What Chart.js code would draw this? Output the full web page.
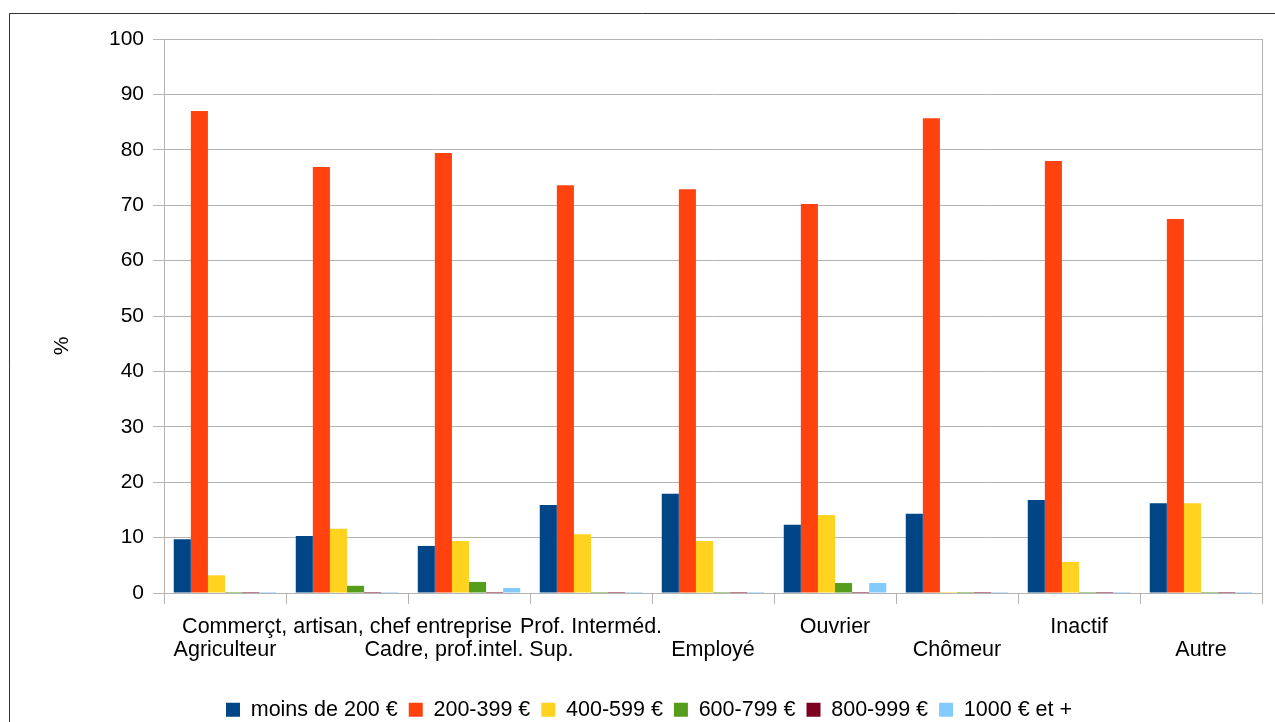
<!DOCTYPE html>
<html><head><meta charset="utf-8">
<script src="https://cdn.jsdelivr.net/npm/chart.js@4/dist/chart.umd.min.js"></script>
<style>html,body{margin:0;padding:0;background:#fff;}#wrap{width:1275px;height:722px;position:relative;}</style>
</head><body><div id="wrap"><canvas id="c" width="1275" height="722"></canvas></div>
<script>
const categories = [
  ['', 'Agriculteur'],
  ['Commerçt, artisan, chef entreprise', ''],
  ['', 'Cadre, prof.intel. Sup.'],
  ['Prof. Interméd.', ''],
  ['', 'Employé'],
  ['Ouvrier', ''],
  ['', 'Chômeur'],
  ['Inactif', ''],
  ['', 'Autre']
];
const seriesNames = ['moins de 200 €', '200-399 €', '400-599 €', '600-799 €', '800-999 €', '1000 € et +'];
const moins200 = [9.7, 10.3, 8.5, 15.9, 17.9, 12.3, 14.3, 16.8, 16.2];
const s200_399 = [87.0, 76.9, 79.4, 73.6, 72.9, 70.2, 85.7, 78.0, 67.5];
const s400_599 = [3.2, 11.6, 9.4, 10.6, 9.4, 14.1, 0, 5.6, 16.2];
const s600_799 = [0, 1.3, 2.0, 0, 0, 1.8, 0, 0, 0];
const s800_999 = [0, 0, 0, 0, 0, 0, 0, 0, 0];
const s1000plus = [0, 0, 0.9, 0, 0, 1.8, 0, 0, 0];
const yTicks = [0, 10, 20, 30, 40, 50, 60, 70, 80, 90, 100];
const yTitle = '%';
const colors = ['#004586', '#ff420e', '#ffd320', '#579d1c', '#7e0021', '#83caff'];
const allSeries = [moins200, s200_399, s400_599, s600_799, s800_999, s1000plus];

const FONT = 'Liberation Sans';

const framePlugin = {
  id: 'frame',
  afterDraw(chart) {
    const ctx = chart.ctx;
    const a = chart.chartArea;
    ctx.save();
    ctx.strokeStyle = '#b3b3b3';
    ctx.lineWidth = 1;
    ctx.beginPath();
    ctx.moveTo(Math.round(a.right) + 0.5, a.top);
    ctx.lineTo(Math.round(a.right) + 0.5, a.bottom + 11);
    ctx.stroke();
    ctx.strokeStyle = '#333333';
    ctx.beginPath();
    ctx.moveTo(9.5, 722);
    ctx.lineTo(9.5, 13.5);
    ctx.lineTo(1275, 13.5);
    ctx.stroke();
    // y axis title
    ctx.fillStyle = '#000';
    ctx.font = '21px "' + FONT + '"';
    ctx.textAlign = 'center';
    ctx.textBaseline = 'middle';
    ctx.translate(62, 346);
    ctx.rotate(-Math.PI / 2);
    ctx.fillText(yTitle, 0, 0);
    ctx.restore();
  }
};

new Chart(document.getElementById('c'), {
  type: 'bar',
  data: {
    labels: categories,
    datasets: allSeries.map((d, i) => ({
      label: seriesNames[i],
      data: d,
      backgroundColor: colors[i],
      borderWidth: 0,
      minBarLength: 1,
      barPercentage: 1.0,
      categoryPercentage: 0.84
    }))
  },
  options: {
    responsive: false,
    animation: false,
    devicePixelRatio: 1,
    layout: { padding: { top: 39, right: 13, left: 36, bottom: -8.5 } },
    plugins: {
      legend: {
        position: 'bottom',
        labels: {
          font: { family: FONT, size: 21.5 },
          color: '#000',
          boxWidth: 14, boxHeight: 14,
          padding: 11
        }
      },
      tooltip: { enabled: false }
    },
    scales: {
      x: {
        offset: true,
        grid: { offset: true, drawOnChartArea: false, drawTicks: true, tickLength: 11, color: '#b3b3b3' },
        border: { color: '#b3b3b3' },
        ticks: {
          autoSkip: false, maxRotation: 0, minRotation: 0,
          font: { family: FONT, size: 21.5, lineHeight: '23px' }, color: '#000', padding: 12
        },
        afterFit(scale) { scale.height = 95; }
      },
      y: {
        min: 0, max: 100,
        afterBuildTicks(scale) { scale.ticks = yTicks.map(v => ({ value: v })); },
        grid: { color: '#b3b3b3', tickLength: 11 },
        border: { color: '#b3b3b3' },
        ticks: { font: { family: FONT, size: 21 }, color: '#000', padding: 9 },
        afterFit(scale) { scale.width = 128; }
      }
    }
  },
  plugins: [framePlugin]
});
</script>
</body></html>
